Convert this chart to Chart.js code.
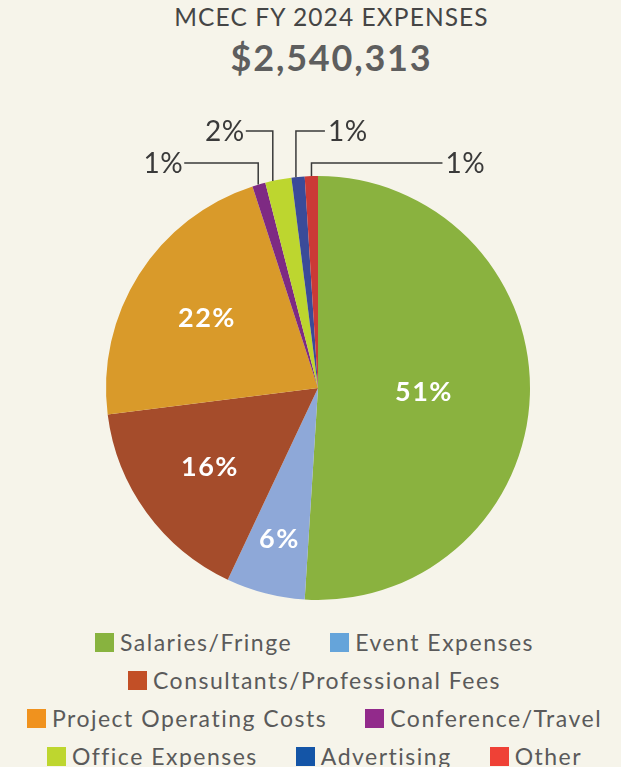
<!DOCTYPE html>
<html>
<head>
<meta charset="utf-8">
<script src="https://cdn.jsdelivr.net/npm/chart.js@4"></script>
<style>
  html, body { margin: 0; padding: 0; background: #F6F4EA; }
  body { width: 621px; height: 767px; position: relative; overflow: hidden; font-family: Lato, sans-serif; }
  #t1 { position: absolute; top: 2px; left: 16px; width: 631px; text-align: center; font-size: 24.5px; color: #454545; letter-spacing: 1.1px; }
  #t2 { position: absolute; top: 35px; left: 16px; width: 631px; text-align: center; font-size: 36px; font-weight: 700; color: #5e5e5e; letter-spacing: 1.8px; }
  #wrap { position: absolute; top: 100px; left: 0; width: 621px; height: 520px; }
  #legend { position: absolute; top: 623px; left: 4px; width: 621px; font-size: 23px; color: #5a5a5a; letter-spacing: 1.5px; }
  .row { display: flex; justify-content: center; gap: 38px; height: 38px; align-items: center; white-space: nowrap; }
  .item { display: flex; align-items: center; }
  .sw { width: 19px; height: 19px; margin-right: 6px; }
</style>
</head>
<body>
<div id="t1">MCEC FY 2024 EXPENSES</div>
<div id="t2">$2,540,313</div>
<div id="wrap"><canvas id="c"></canvas></div>
<div id="legend"></div>
<script>
const categories = ["Salaries/Fringe", "Event Expenses", "Consultants/Professional Fees", "Project Operating Costs", "Conference/Travel", "Office Expenses", "Advertising", "Other"];
const percents = [51, 6, 16, 22, 1, 2, 1, 1];
const sliceColors = ["#8AB23F", "#8EA8D8", "#A54C2B", "#D99A2A", "#7E2A83", "#BDD62F", "#3A4B99", "#CB3A36"];
const legendColors = ["#88B33F", "#65A4DA", "#C24F26", "#F0921E", "#922A8B", "#BED62F", "#1455A7", "#EF4136"];
const percentLabels = percents.map(v => v + "%");
const legendRows = [[0, 1], [2], [3, 4], [5, 6, 7]];

// inner label placement (radius fraction) for big slices
const innerLabels = { 0: 0.5, 1: 0.73, 2: 0.63, 3: 0.62 };
// outer leader-line labels: angle fraction within slice, label y offset from centre, horizontal run
const outerLabels = {
  4: { frac: 0.45, dy: -225, run: -74 },
  5: { frac: 0.29, dy: -257, run: -27 },
  6: { frac: 0.34, dy: -257, run: 29 },
  7: { frac: 0.51, dy: -225, run: 131 }
};

const labelPlugin = {
  id: 'pieLabels',
  afterDatasetsDraw(chart) {
    const ctx = chart.ctx;
    const meta = chart.getDatasetMeta(0);
    ctx.save();
    meta.data.forEach((arc, i) => {
      const p = arc.getProps(['x', 'y', 'startAngle', 'endAngle', 'outerRadius']);
      if (innerLabels[i] !== undefined) {
        const a = (p.startAngle + p.endAngle) / 2;
        const r = p.outerRadius * innerLabels[i];
        ctx.fillStyle = '#ffffff';
        ctx.font = '700 27px Lato, sans-serif';
        ctx.letterSpacing = '1.5px';
        ctx.textAlign = 'center';
        ctx.textBaseline = 'middle';
        ctx.fillText(percentLabels[i], p.x + r * Math.cos(a), p.y + r * Math.sin(a) + 1);
      }
      const o = outerLabels[i];
      if (o) {
        const a = p.startAngle + o.frac * (p.endAngle - p.startAngle);
        const x0 = p.x + p.outerRadius * Math.cos(a);
        const y0 = p.y + p.outerRadius * Math.sin(a);
        const ly = p.y + o.dy;
        const x1 = x0 + o.run;
        ctx.strokeStyle = '#3a3a3a';
        ctx.lineWidth = 1.5;
        ctx.beginPath();
        ctx.moveTo(x0, y0);
        ctx.lineTo(x0, ly);
        ctx.lineTo(x1, ly);
        ctx.stroke();
        ctx.fillStyle = '#3a3a3a';
        ctx.font = '400 28px Lato, sans-serif';
        ctx.letterSpacing = '0.5px';
        ctx.textBaseline = 'middle';
        ctx.textAlign = o.run < 0 ? 'right' : 'left';
        ctx.fillText(percentLabels[i], x1 + (o.run < 0 ? -1 : 3), ly + 1);
      }
    });
    ctx.restore();
  }
};

new Chart(document.getElementById('c'), {
  type: 'pie',
  data: {
    labels: categories,
    datasets: [{ data: percents, backgroundColor: sliceColors, borderWidth: 0 }]
  },
  options: {
    responsive: true,
    maintainAspectRatio: false,
    animation: false,
    layout: { padding: { left: 15, top: 76, bottom: 20 } },
    plugins: { legend: { display: false }, tooltip: { enabled: false } }
  },
  plugins: [labelPlugin]
});

const lg = document.getElementById('legend');
legendRows.forEach(row => {
  const r = document.createElement('div');
  r.className = 'row';
  row.forEach(i => {
    const it = document.createElement('div');
    it.className = 'item';
    const sw = document.createElement('span');
    sw.className = 'sw';
    sw.style.background = legendColors[i];
    const tx = document.createElement('span');
    tx.textContent = categories[i];
    it.appendChild(sw);
    it.appendChild(tx);
    r.appendChild(it);
  });
  lg.appendChild(r);
});
</script>
</body>
</html>
